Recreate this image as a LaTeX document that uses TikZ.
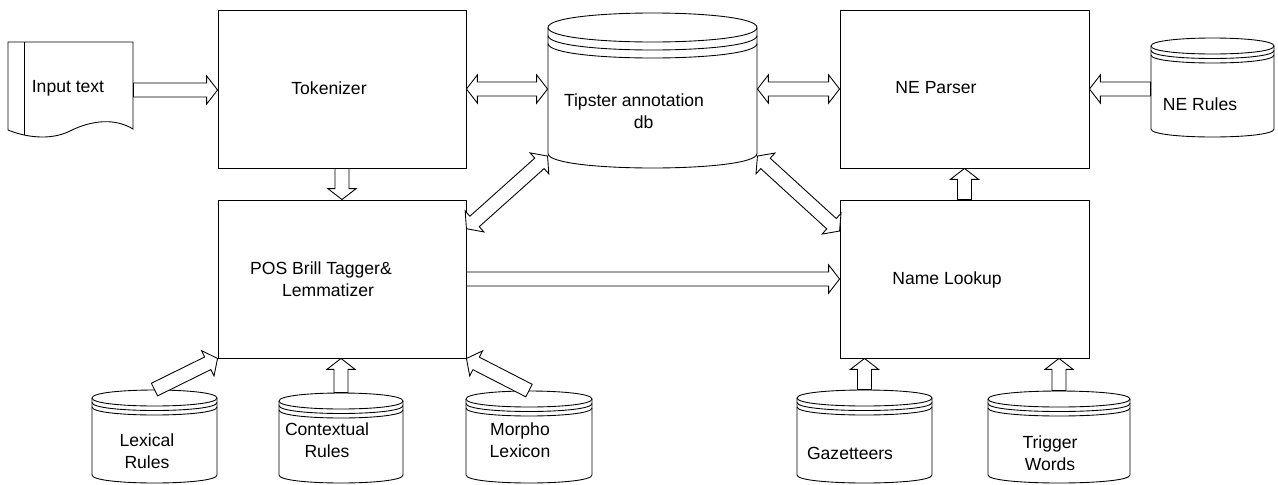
\documentclass[tikz,border=0pt]{standalone}
\usepackage{fontspec}
\setmainfont{Liberation Sans}
\usetikzlibrary{calc,fit}

\tikzset{
  box/.style={draw, inner sep=0pt},
  span/.style={inner sep=0pt},
  lbl/.style={align=center, inner sep=0pt, font=\fontsize{10}{12.5}\selectfont},
  fatline/.style={draw, fill=white, line join=miter}
}

% block arrow, tip at #2
\newcommand\fatarrow[2]{%
  \coordinate (fa-s) at (#1);
  \coordinate (fa-e) at (#2);
  \coordinate (fa-h) at ($(fa-e)!6.2pt!(fa-s)$);
  \path[fatline] ($(fa-s)!4pt!90:(fa-e)$) -- ($(fa-h)!4pt!90:(fa-e)$) -- ($(fa-h)!8pt!90:(fa-e)$) -- (fa-e)
    -- ($(fa-h)!8pt!-90:(fa-e)$) -- ($(fa-h)!4pt!-90:(fa-e)$) -- ($(fa-s)!4pt!-90:(fa-e)$) -- cycle;
}
% block arrow, tips at both ends
\newcommand\dblfatarrow[2]{%
  \coordinate (fa-s) at (#1);
  \coordinate (fa-e) at (#2);
  \coordinate (fa-g) at ($(fa-s)!6.2pt!(fa-e)$);
  \coordinate (fa-h) at ($(fa-e)!6.2pt!(fa-s)$);
  \path[fatline] (fa-s) -- ($(fa-g)!8pt!90:(fa-e)$) -- ($(fa-g)!4pt!90:(fa-e)$) -- ($(fa-h)!4pt!90:(fa-e)$)
    -- ($(fa-h)!8pt!90:(fa-e)$) -- (fa-e) -- ($(fa-h)!8pt!-90:(fa-e)$) -- ($(fa-h)!4pt!-90:(fa-e)$)
    -- ($(fa-g)!4pt!-90:(fa-e)$) -- ($(fa-g)!8pt!-90:(fa-e)$) -- cycle;
}
% database: name, x1, x2, ytop, ybot, ry, ring gap
\newcommand\dbcyl[7]{%
  \node[span, fit={(#2,#4) (#3,#5)}] (#1) {};
  \draw (#2,#4+#6) .. controls (#2,#4-#6/3) and (#3,#4-#6/3) .. (#3,#4+#6)
     .. controls (#3,#4+#6*7/3) and (#2,#4+#6*7/3) .. (#2,#4+#6) -- cycle;
  \foreach \k in {1,2}
    \draw (#2,#4+#6+\k*#7) .. controls (#2,#4+#6*7/3+\k*#7) and (#3,#4+#6*7/3+\k*#7) .. (#3,#4+#6+\k*#7);
  \draw (#2,#4+#6) -- (#2,#5-#6) .. controls (#2,#5+#6/3) and (#3,#5+#6/3) .. (#3,#5-#6) -- (#3,#4+#6);
}

\begin{document}
\begin{tikzpicture}[x=0.02cm, y=-0.02cm, line width=0.5pt]
\useasboundingbox (0,0) rectangle (1278,484);

% input document
\node[span, fit={(8,42) (133,138)}] (input) {};
\draw (8,42) -- (133,42) -- (133,129) .. controls (115,118) and (92,120) .. (70,131)
  .. controls (50,141) and (25,137) .. (8,130) -- cycle;
\draw (24,42) -- (24,135);
\node[lbl] (input-t) at (68,88) {Input text};

% processing boxes
\node[box, fit={(218,10) (466,168)}] (tok) {};
\node[box, fit={(218,200) (466,358)}] (pos) {};
\node[box, fit={(840,10) (1089,168)}] (nep) {};
\node[box, fit={(840,200) (1089,358)}] (look) {};
\node[lbl] (tok-t) at (329,88) {Tokenizer};
\node[lbl] (pos-t) at (321,279) {POS Brill Tagger\&\\\hspace*{8pt}Lemmatizer};
\node[lbl] (nep-t) at (936,88) {NE Parser};
\node[lbl] (look-t) at (947,280) {Name Lookup};

% databases
\dbcyl{tip}{548}{757}{13}{168}{14.5}{8}
\dbcyl{ner}{1151}{1274}{38}{137}{8}{4.5}
\dbcyl{lex}{92}{217}{390}{483}{8}{4.5}
\dbcyl{ctx}{279}{403}{393}{483}{8}{4.5}
\dbcyl{mor}{466}{592}{391}{483}{8}{4.5}
\dbcyl{gaz}{797}{932}{390}{483}{8}{4.5}
\dbcyl{trig}{988}{1130}{391}{483}{8}{4.5}
\node[lbl] (tip-t) at (634,111) {Tipster annotation\\\hspace*{11pt}db};
\node[lbl] (ner-t) at (1200,104) {NE Rules};
\node[lbl] (lex-t) at (147,451) {Lexical\\Rules};
\node[lbl] (ctx-t) at (327,440) {Contextual\\Rules};
\node[lbl] (mor-t) at (520,440) {Morpho\\Lexicon};
\node[lbl] (gaz-t) at (850,453) {Gazetteers};
\node[lbl] (trig-t) at (1050,453) {Trigger\\Words};

% connectors
\fatarrow{input.east}{input.east -| tok.west}
\dblfatarrow{tok.east}{tok.east -| tip.west}
\dblfatarrow{tip.east |- nep.west}{nep.west}
\fatarrow{ner.west |- nep.east}{nep.east}
\fatarrow{tok.south}{pos.north}
\dblfatarrow{pos.22}{tip.212}
\dblfatarrow{tip.328}{look.159}
\fatarrow{pos.east}{look.west}
\fatarrow{look.north}{nep.south}
\fatarrow{lex.north}{pos.south west}
\fatarrow{ctx.north}{ctx.north |- pos.south}
\fatarrow{mor.north}{pos.south east}
\fatarrow{gaz.north}{gaz.north |- look.south}
\fatarrow{trig.north}{trig.north |- look.south}
\end{tikzpicture}
\end{document}
